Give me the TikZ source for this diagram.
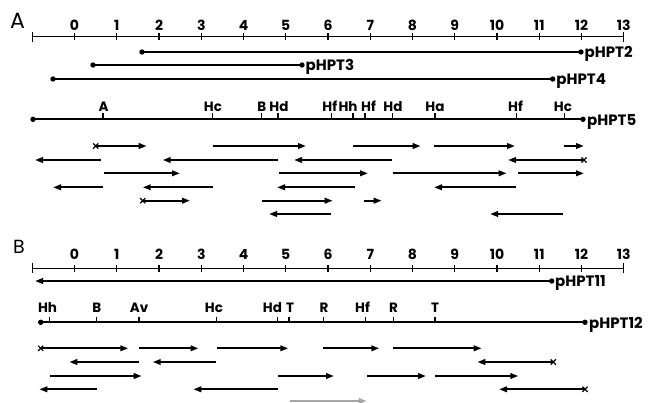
\documentclass[tikz,border=0pt]{standalone}
\usepackage{fontspec}
\setmainfont{Poppins}
\usetikzlibrary{arrows.meta}

% Restriction maps of the HPT clones with their sequencing strategy.
% Coordinates are in points, y grows downwards; 1 kb = 42.25pt, 0 kb at x = 74.5.
\tikzset{
  ruler/.style={line width=1.3pt},
  mapline/.style={line width=1.9pt},
  readfwd/.style={line width=2.1pt,-{Triangle[length=8pt,width=5.5pt]}},
  readdim/.style={readfwd,draw=black!35},
  tick/.style={line width=1.1pt},
  num/.style={font=\fontsize{14}{14}\selectfont\bfseries,anchor=base,inner sep=0pt},
  site/.style={font=\fontsize{13.5}{13.5}\selectfont\bfseries,anchor=base,inner sep=0pt},
  clone/.style={font=\fontsize{15}{15}\selectfont\bfseries,anchor=base west,inner sep=0pt},
  panel/.style={font=\fontsize{22}{22}\selectfont,inner sep=0pt},
}
% kb position -> x in points
\newcommand\kbx[1]{\fpeval{74.5+42.25*(#1)}}
% a sequencing read from x #1 to x #2 at height #3
\newcommand\readarrow[3]{\draw[readfwd] (#1,#3) -- (#2,#3);}
% a read whose start carries a cross
\newcommand\readcross[3]{%
  \draw[readfwd] (#1,#3) -- (#2,#3);
  \draw[line width=1.2pt] (#1-2.6,#3-2.6) -- (#1+2.6,#3+2.6) (#1-2.6,#3+2.6) -- (#1+2.6,#3-2.6);}
% a ruler from -1 to 13 kb at height #1, numbers on baseline #2
\newcommand\kbruler[3]{%
  \coordinate (#3l) at (\kbx{-1},#1);
  \coordinate (#3r) at (\kbx{13},#1);
  \draw[ruler] (#3l) -- (#3r);
  \draw[ruler] (\kbx{-1},#1-5) -- (\kbx{-1},#1+5);
  \draw[ruler] (\kbx{13},#1-5) -- (\kbx{13},#1+5);
  \foreach \k in {0,...,12}{\draw[tick] (\kbx{\k},#1-3.5) -- (\kbx{\k},#1+3.5);}
  \foreach \k in {0,...,13}{\node[num] (#3n\k) at (\kbx{\k},#2) {\k};}}

\begin{document}
\begin{tikzpicture}[x=1pt,y=-1pt]
\useasboundingbox (0,0) rectangle (653,402);

% ---------------- panel A ----------------
\node[panel] (labA) at (17.5,21) {A};
\kbruler{36.7}{30}{ra}

% inserts of pHPT2, pHPT3, pHPT4
\foreach \nm/\a/\b/\y in {2/142/581/52, 3/93/302/65, 4/53/552.7/79}{
  \coordinate (c\nm a) at (\a,\y);
  \coordinate (c\nm b) at (\b,\y);
  \draw[mapline] (c\nm a) -- (c\nm b);
  \fill (c\nm a) circle (2.7pt) (c\nm b) circle (2.7pt);
  \node[clone] (t\nm) at (\b+3.5,\y+5.5) {pHPT\nm};
}

% restriction map of pHPT5
\coordinate (m5a) at (33,119.3);
\coordinate (m5b) at (583,119.3);
\draw[mapline] (m5a) -- (m5b);
\fill (m5a) circle (2.7pt) (m5b) circle (2.7pt);
\node[clone] (t5) at (587,125) {pHPT5};
\foreach \tx in {103,212.7,261.7,278,331.7,353,365,392.7,435,516.7,564.3}
  \draw[tick] (\tx,119.3) -- (\tx,113);
\foreach \i/\lx/\s in {1/103.5/A,2/213/Hc,3/261.7/B,4/279/Hd,5/329.8/Hf,6/348/Hh,
                      7/368.5/Hf,8/393/Hd,9/435/Ha,10/515.5/Hf,11/563/Hc}
  \node[site] (sa\i) at (\lx,111.7) {\s};

% sequencing reads, pHPT5
\readcross{95.7}{146.7}{146}
\readarrow{212.7}{306}{146}
\readarrow{353}{420.7}{146}
\readarrow{434}{515}{146}
\readarrow{564}{584}{146}

\readarrow{101}{35}{160}
\readarrow{278}{162.7}{160}
\readarrow{392}{294}{160}
\readcross{584}{508}{160}

\readarrow{104}{180}{173.3}
\readarrow{279}{368}{173.3}
\readarrow{392.7}{506.7}{173.3}
\readarrow{518}{584}{173.3}

\readarrow{103}{53}{187.3}
\readarrow{212.7}{142.7}{187.3}
\readarrow{355}{277}{187.3}
\readarrow{516}{434}{187.3}

\readcross{142.7}{190}{200.7}
\readarrow{261.7}{332.7}{200.7}
\readarrow{364}{381.7}{200.7}

\readarrow{330.7}{269}{214}
\readarrow{563}{490}{214}

% ---------------- panel B ----------------
\node[panel,font=\fontsize{19}{19}\selectfont] (labB) at (19,247) {B};
\kbruler{268.3}{259}{rb}

% insert of pHPT11
\coordinate (c11a) at (551.7,281);
\coordinate (c11b) at (35,281);
\draw[readfwd,line width=1.9pt] (c11a) -- (c11b);
\fill (c11a) circle (2.7pt);
\node[clone] (t11) at (555,286.5) {pHPT11};

% restriction map of pHPT12
\coordinate (m12a) at (40.7,322.3);
\coordinate (m12b) at (585,322.3);
\draw[mapline] (m12a) -- (m12b);
\fill (m12a) circle (2.7pt) (m12b) circle (2.7pt);
\node[clone] (t12) at (589,328) {pHPT12};
\foreach \tx in {49.3,96.7,139,216.7,277.7,289,323.3,365.7,393.3,435}
  \draw[tick] (\tx,322.3) -- (\tx,316.5);
\foreach \i/\lx/\s in {1/47.5/Hh,2/96.7/B,3/139/Av,4/214/Hc,5/272.5/Hd,6/290/T,
                      7/324/R,8/362.5/Hf,9/393.5/R,10/435/T}
  \node[site] (sb\i) at (\lx,312.7) {\s};

% sequencing reads, pHPT12
\readcross{40.7}{128.3}{348.3}
\readarrow{139}{198.5}{348.3}
\readarrow{216.5}{288.3}{348.3}
\readarrow{323.3}{379.3}{348.3}
\readarrow{393.3}{481.7}{348.3}

\readarrow{139.3}{69.3}{362}
\readarrow{216}{152.7}{362}
\readcross{553.3}{477.3}{362}

\readarrow{50}{141.7}{376}
\readarrow{278}{334}{376}
\readarrow{367.3}{426}{376}
\readarrow{435}{518.3}{376}

\readarrow{96.7}{39.3}{389.3}
\readarrow{278.3}{193.3}{389.3}
\readcross{585}{499}{389.3}

\draw[readdim] (290,401) -- (366.7,401);
\end{tikzpicture}
\end{document}
